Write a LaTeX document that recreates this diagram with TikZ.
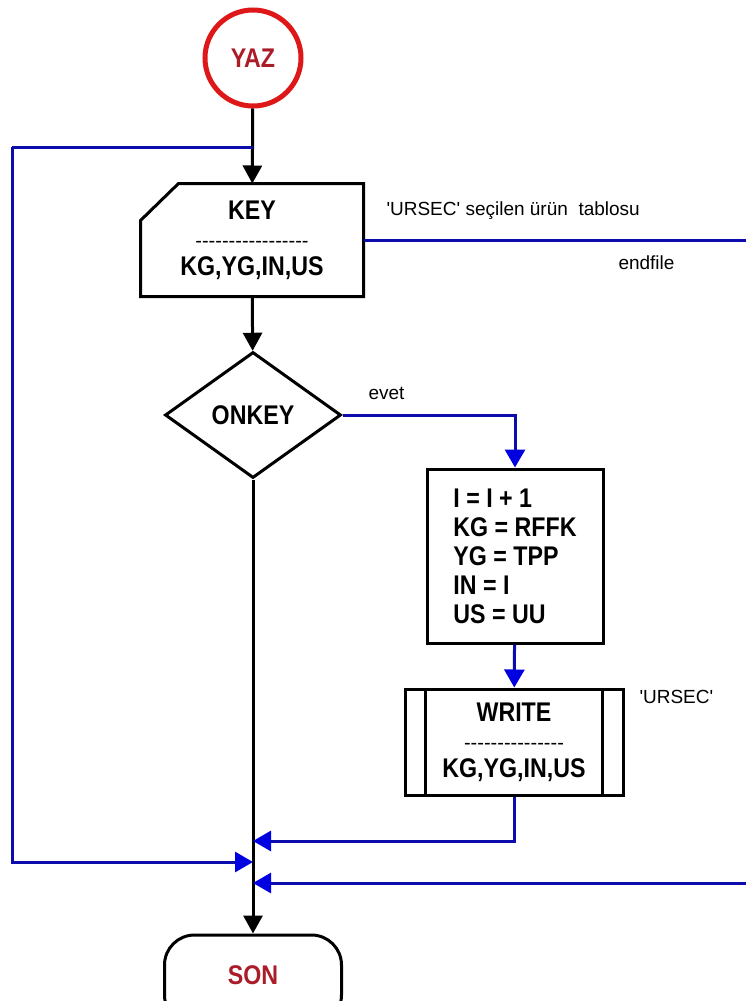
\documentclass[tikz,border=0pt]{standalone}
\usepackage{fontspec}
\setmainfont{Liberation Sans}[Ligatures=TeXOff]
\newfontfamily\boxfam{Liberation Sans}[FakeStretch=0.86,Ligatures=TeXOff]
\usetikzlibrary{arrows.meta,shapes.geometric}
\definecolor{flowblue}{RGB}{12,12,172}
\definecolor{headblue}{RGB}{0,0,225}
\definecolor{termred}{RGB}{222,24,24}
\definecolor{termtext}{RGB}{170,28,40}
\newcommand{\boxtext}{\boxfam\bfseries\fontsize{13.5}{14}\selectfont}
\newcommand{\smalltext}{\fontsize{9.5}{11}\selectfont}
\newcommand{\dashtext}{\fontsize{10}{11}\selectfont}
\begin{document}
\begin{tikzpicture}[x=0.5pt,y=-0.5pt,line width=1.5pt,
  box/.style={draw,rectangle,font=\boxtext,align=center,inner sep=0pt},
  flow/.style={-{Triangle[length=9pt,width=9.5pt]}},
  loop/.style={flowblue,-{Triangle[length=9pt,width=10pt,color=headblue]}},
  note/.style={anchor=west,font=\smalltext,inner sep=0pt}]
\useasboundingbox (0,0) rectangle (745,1001);
\fill[white] (0,0) rectangle (745,1001);
\node[circle,draw=termred,line width=2.5pt,minimum size=48pt,font=\boxtext,text=termtext] (yaz) at (253,58) {YAZ};
\node[box,draw=none,minimum width=110pt,minimum height=55pt] (key) at (252,240) {KEY\\{\normalfont\dashtext -----------------}\\KG,YG,IN,US};
\draw ([xshift=19pt]key.north west) -- (key.north east) -- (key.south east) -- (key.south west) -- ([yshift=-18.5pt]key.north west) -- cycle;
\node[box,diamond,aspect=1.4,minimum width=88pt,minimum height=63pt] (onkey) at (253,415) {ONKEY};
\node[box,align=left,minimum width=88pt,minimum height=87pt,font=\boxfam\bfseries\fontsize{13.5}{14.5}\selectfont] (upd) at (515,556) {I = I + 1\\KG = RFFK\\YG = TPP\\IN = I\\US = UU};
\node[box,minimum width=109pt,minimum height=53pt] (write) at (514,742) {WRITE\\{\normalfont\dashtext ---------------}\\KG,YG,IN,US};
\draw ([xshift=11pt]write.north west) -- ([xshift=11pt]write.south west);
\draw ([xshift=-11pt]write.north east) -- ([xshift=-11pt]write.south east);
\node[box,rounded corners=15pt,minimum width=88.5pt,minimum height=45pt,text=termtext] (son) at (253,980) {\raisebox{5pt}{SON}};
\node[note] (tab) at (385,211) {'URSEC' seçilen ürün~ tablosu};
\node[note] (eof) at (617,263) {endfile};
\node[note] (evet) at (367,393) {evet};
\node[note] (file) at (638,697) {'URSEC'};
\coordinate (ltop) at (12,147);
\coordinate (lbot) at (12,862);
\coordinate (rtop) at (760,240);
\coordinate (rbot) at (760,883);
\coordinate (m1) at (253,841);
\coordinate (m2) at (253,862);
\coordinate (m3) at (253,883);
\draw[flow] (yaz) -- (key);
\draw[flow] (key) -- (onkey);
\draw[flow] (onkey) -- (son);
\draw[flowblue] (ltop -| yaz) -- (ltop);
\draw[loop] (ltop) -- (lbot) -- (m2);
\draw[loop] (key.east) -- (rtop) -- (rbot) -- (m3);
\draw[loop] (onkey.east) -| (upd.north);
\draw[loop] (upd) -- (write);
\draw[loop] (write.south) |- (m1);
\end{tikzpicture}
\end{document}
